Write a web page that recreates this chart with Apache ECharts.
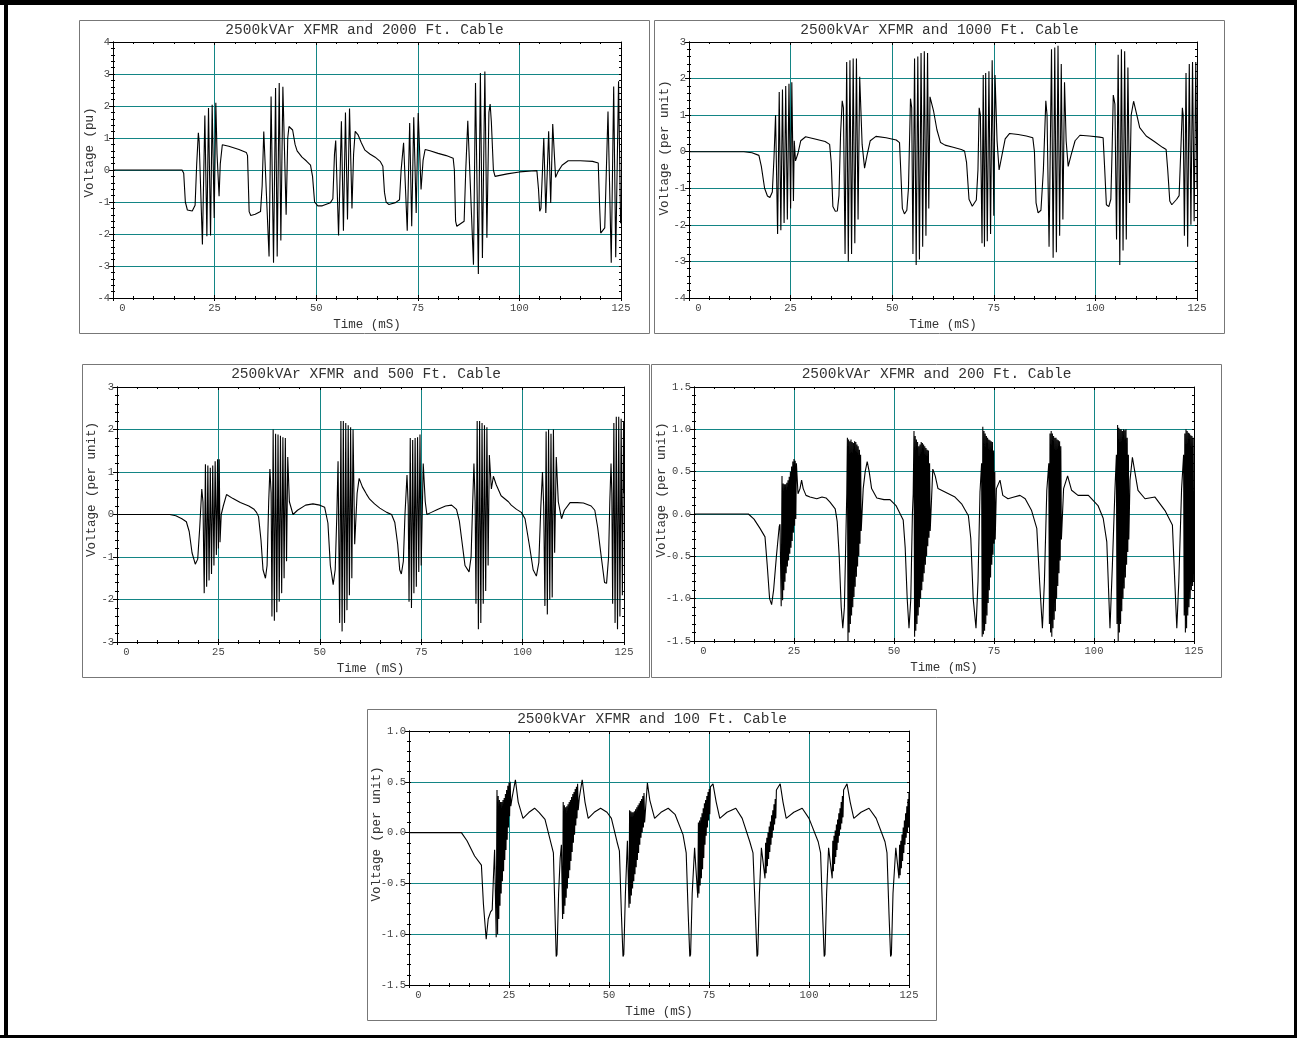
<!DOCTYPE html>
<html>
<head>
<meta charset="utf-8">
<title>2500kVAr XFMR - cable length comparison</title>
<script src="https://cdn.jsdelivr.net/npm/echarts@6/dist/echarts.min.js"></script>
<style>
html, body { margin: 0; padding: 0; background: #fff; }
#chart { width: 1297px; height: 1038px; }
</style>
</head>
<body>
<div id="chart"></div>
<script>
// ---------------------------------------------------------------------------------------------
// DATA  (time in mS, voltage in per unit)

const timeTicks = [0, 25, 50, 75, 100, 125];

const titles = [
    '2500kVAr XFMR and 2000 Ft. Cable',
    '2500kVAr XFMR and 1000 Ft. Cable',
    '2500kVAr XFMR and 500 Ft. Cable',
    '2500kVAr XFMR and 200 Ft. Cable',
    '2500kVAr XFMR and 100 Ft. Cable'
];
const yNames = ['Voltage (pu)', 'Voltage (per unit)', 'Voltage (per unit)', 'Voltage (per unit)', 'Voltage (per unit)'];
const xName = 'Time (mS)';

const yTicks2000 = [-4, -3, -2, -1, 0, 1, 2, 3, 4];
const yTicks1000 = [-4, -3, -2, -1, 0, 1, 2, 3];
const yTicks500 = [-3, -2, -1, 0, 1, 2, 3];
const yTicks200 = [-1.5, -1.0, -0.5, 0.0, 0.5, 1.0, 1.5];
const yTicks100 = [-1.5, -1.0, -0.5, 0.0, 0.5, 1.0];

const cable2000 = [[0,0],[17.0,0],[17.4,-0.1],[17.8,-1.0],[18.3,-1.25],[19.5,-1.28],[20.2,-1.1],[20.6,0.2],[21.0,1.16],[21.2,0.9],[22.0,-2.33],[22.6,1.7],[23.1,-2.07],[23.5,1.94],[24.0,-2.05],[24.4,2.04],[24.9,-1.5],[25.3,2.1],[25.6,0.5],[26.1,-0.82],[26.4,0.2],[26.9,0.79],[28.5,0.74],[31.0,0.64],[32.8,0.55],[33.1,0.45],[33.5,-1.3],[33.9,-1.42],[35.0,-1.38],[36.3,-1.3],[36.7,-0.5],[37.1,1.2],[37.5,1.15],[38.4,-2.7],[38.9,2.3],[39.5,-2.9],[40.0,2.56],[40.4,-2.7],[40.9,2.72],[41.3,-2.2],[41.8,2.6],[42.6,-1.4],[43.0,1.0],[43.3,1.36],[44.2,1.25],[44.8,0.8],[45.3,0.6],[46.5,0.4],[47.6,0.28],[48.6,0.15],[49.1,-0.2],[49.6,-1.0],[50.4,-1.12],[51.5,-1.12],[53.5,-1.02],[54.1,-0.9],[54.5,0.5],[54.8,0.92],[55.5,-2.05],[56.2,1.52],[56.7,-1.9],[57.2,1.8],[57.7,-1.55],[58.2,1.92],[58.8,-1.2],[59.2,0.5],[59.6,1.21],[60.3,1.1],[61.1,0.85],[62.0,0.62],[63.2,0.5],[64.5,0.4],[65.8,0.26],[66.4,0.12],[66.8,-0.7],[67.2,-1.0],[67.9,-1.08],[69.5,-1.02],[70.5,-0.93],[70.9,0],[71.5,0.85],[71.7,0.8],[72.4,-1.9],[73.0,1.47],[73.5,-1.76],[74.0,1.65],[74.6,-1.34],[75.1,1.78],[75.8,-0.61],[76.3,0.3],[76.8,0.64],[78.0,0.6],[80.0,0.52],[82.0,0.45],[83.7,0.37],[84.0,0],[84.3,-1.6],[84.6,-1.76],[86.4,-1.6],[86.8,0],[87.3,1.54],[87.6,1.5],[88.7,-2.96],[89.2,2.72],[89.9,-3.25],[90.4,3.03],[90.9,-2.75],[91.5,3.08],[92.0,-2.12],[92.5,1.8],[92.8,2.06],[93.1,1.5],[93.6,0],[94.0,-0.2],[97.0,-0.12],[100.0,-0.06],[103.0,-0.03],[104.3,-0.02],[104.7,-0.6],[105.0,-1.29],[105.3,-1.2],[106.0,1.0],[106.5,-1.34],[107.2,1.21],[107.7,-1.03],[108.2,1.44],[108.9,-0.23],[109.5,-0.05],[110.5,0.15],[112.0,0.29],[115.0,0.29],[118.0,0.27],[119.4,0.22],[119.7,-1.0],[120.0,-1.97],[121.0,-1.81],[121.8,1.83],[122.6,-2.9],[123.2,2.61],[123.7,-2.73],[124.4,2.77],[124.9,-1.66],[125.0,-1.2]];

const cable1000 = [[0,0],[13.5,0],[15.5,-0.03],[17.2,-0.1],[17.8,-0.4],[18.6,-1.0],[19.3,-1.21],[19.9,-1.25],[20.5,-1.1],[20.9,-0.2],[21.3,1.0],[21.8,-2.25],[22.2,1.63],[22.6,-2.15],[23.0,1.7],[23.4,-1.95],[23.8,1.8],[24.2,-1.85],[24.6,1.86],[25.0,-1.55],[25.3,1.9],[25.7,-1.35],[25.9,0.3],[26.2,-0.25],[26.8,-0.05],[27.5,0.3],[28.7,0.41],[31.0,0.35],[33.5,0.28],[34.6,0.2],[35.0,-0.3],[35.4,-1.5],[36.0,-1.63],[36.5,-1.62],[36.9,-1.2],[37.3,0.5],[37.7,1.39],[38.0,1.2],[38.4,-2.8],[38.8,2.45],[39.2,-3.0],[39.6,2.5],[40.0,-2.8],[40.4,2.55],[40.8,-2.5],[41.2,2.55],[41.6,-1.85],[42.0,2.05],[42.6,0.2],[43.2,-0.45],[43.8,-0.1],[44.6,0.3],[46.0,0.42],[48.5,0.38],[51.0,0.32],[51.8,0.25],[52.1,-0.5],[52.5,-1.55],[53.0,-1.7],[53.6,-1.6],[54.0,-1.0],[54.5,1.45],[54.8,1.2],[55.1,-2.8],[55.5,2.55],[55.9,-3.1],[56.3,2.6],[56.7,-2.95],[57.1,2.7],[57.5,-2.6],[57.9,2.75],[58.3,-2.3],[58.7,2.7],[59.0,-1.55],[59.3,1.5],[60.2,1.1],[61.0,0.6],[61.9,0.25],[63.0,0.18],[65.0,0.12],[67.0,0.06],[67.8,0.02],[68.3,-0.3],[68.9,-1.3],[69.7,-1.49],[70.7,-1.32],[71.1,-0.5],[71.4,1.2],[71.7,1.0],[72.1,-2.5],[72.4,2.1],[72.7,-2.6],[73.0,2.15],[73.4,-2.45],[73.8,2.2],[74.2,-2.25],[74.6,2.5],[75.0,-1.75],[75.3,2.1],[75.8,0.3],[76.3,-0.5],[77.0,-0.1],[77.8,0.35],[78.9,0.5],[81.0,0.47],[83.0,0.43],[84.6,0.38],[85.0,0],[85.4,-1.4],[85.9,-1.67],[86.6,-1.6],[87.2,-0.5],[87.8,1.39],[88.1,1.0],[88.6,-2.6],[89.2,2.8],[89.6,-2.9],[90.0,2.85],[90.4,-2.75],[90.8,2.9],[91.2,-2.3],[91.6,2.4],[92.0,-1.85],[92.4,1.9],[92.8,0.3],[93.3,-0.4],[94.0,-0.1],[95.0,0.3],[96.2,0.45],[98.5,0.43],[101.0,0.4],[101.9,0.38],[102.3,-0.5],[102.7,-1.45],[103.3,-1.5],[103.8,-1.3],[104.1,0],[104.4,1.55],[104.8,1.3],[105.2,-2.4],[105.6,2.65],[106.0,-3.1],[106.4,2.8],[106.8,-2.7],[107.2,2.75],[107.6,-2.4],[108.0,2.3],[108.4,-1.4],[108.8,1.0],[109.4,1.38],[110.2,1.0],[110.9,0.66],[112.5,0.43],[114.5,0.28],[116.5,0.12],[117.4,0.06],[117.8,-0.5],[118.3,-1.35],[118.8,-1.45],[120.0,-1.3],[120.6,-1.2],[121.0,0],[121.4,1.2],[121.6,1.0],[121.9,-2.3],[122.3,2.15],[122.7,-2.6],[123.1,2.4],[123.5,-2.0],[123.9,2.45],[124.3,-1.9],[124.7,2.45],[125.0,-1.0]];

const cable500 = [[0,0],[13.0,0],[14.5,-0.03],[16.0,-0.1],[17.1,-0.17],[17.8,-0.4],[18.5,-0.9],[19.3,-1.17],[19.9,-1.05],[20.4,-0.3],[20.9,0.6],[21.2,0.3],[21.5,-1.85],[21.8,1.18],[22.1,-1.7],[22.4,1.15],[22.7,-1.55],[23.0,1.1],[23.3,-1.4],[23.6,1.15],[23.9,-1.2],[24.2,1.25],[24.5,-0.95],[24.8,1.3],[25.0,-0.8],[25.2,1.3],[25.4,-0.65],[25.7,0.0],[26.2,0.2],[27.0,0.47],[28.5,0.38],[30.4,0.28],[32.5,0.2],[33.7,0.13],[34.4,0.05],[34.9,-0.05],[35.5,-0.6],[36.0,-1.3],[36.6,-1.5],[37.0,-1.2],[37.4,0.3],[37.7,1.07],[38.0,0.5],[38.2,-2.4],[38.5,2.0],[38.8,-2.5],[39.1,1.9],[39.4,-2.3],[39.7,1.88],[40.0,-2.05],[40.3,1.85],[40.6,-1.85],[40.9,1.82],[41.2,-1.5],[41.5,1.8],[41.8,-1.1],[42.1,1.35],[42.5,0.3],[43.4,0.0],[44.5,0.1],[46.5,0.22],[48.3,0.25],[50.0,0.22],[51.2,0.17],[52.0,-0.2],[52.6,-1.2],[53.3,-1.65],[53.8,-1.3],[54.2,0.0],[54.5,1.25],[54.9,-2.55],[55.2,2.2],[55.5,-2.75],[55.8,2.2],[56.1,-2.55],[56.4,2.15],[56.7,-2.25],[57.0,2.1],[57.3,-1.9],[57.6,2.05],[57.9,-1.5],[58.2,2.0],[58.6,-0.7],[59.2,0.5],[59.7,0.85],[60.5,0.65],[61.5,0.48],[62.3,0.36],[63.5,0.25],[64.8,0.15],[66.5,0.05],[67.7,0.0],[68.5,-0.19],[69.2,-0.7],[69.7,-1.3],[70.1,-1.4],[70.6,-1.1],[71.0,0.0],[71.5,0.93],[71.8,0.2],[72.0,-2.05],[72.3,1.8],[72.6,-2.2],[72.9,1.75],[73.2,-1.85],[73.5,1.8],[73.8,-1.7],[74.1,1.82],[74.4,-1.35],[74.7,1.88],[75.0,-1.2],[75.5,1.2],[76.0,0.3],[76.4,0.0],[77.5,0.05],[79.0,0.12],[81.0,0.2],[82.5,0.22],[83.7,0.12],[84.4,-0.15],[85.0,-0.6],[85.8,-1.2],[86.8,-1.35],[87.3,-1.0],[87.7,0.3],[88.0,1.2],[88.3,0.3],[88.5,-2.1],[88.8,2.2],[89.1,-2.7],[89.4,2.2],[89.7,-2.55],[90.0,2.15],[90.3,-2.1],[90.6,2.1],[90.9,-1.8],[91.2,2.05],[91.5,-1.2],[91.8,1.4],[92.3,0.6],[92.8,0.9],[93.5,0.7],[94.7,0.44],[96.5,0.3],[97.2,0.22],[98.5,0.12],[99.7,0.05],[100.6,-0.1],[101.8,-0.8],[102.6,-1.3],[103.4,-1.45],[104.0,-1.13],[104.5,0.2],[104.9,1.0],[105.2,0.2],[105.5,-2.15],[105.8,1.95],[106.1,-2.35],[106.4,2.0],[106.7,-2.0],[107.0,1.9],[107.3,-1.95],[107.6,2.0],[107.9,-0.9],[108.3,1.35],[108.8,0.3],[109.6,-0.1],[110.3,0.1],[111.7,0.28],[113.5,0.28],[115.0,0.27],[116.9,0.2],[117.8,0.1],[118.5,-0.3],[119.4,-1.0],[120.2,-1.6],[120.7,-1.62],[121.2,-1.0],[121.5,0.3],[121.8,1.2],[122.0,0.5],[122.2,-2.1],[122.5,2.15],[122.8,-2.55],[123.1,2.3],[123.4,-2.7],[123.7,2.3],[124.0,-2.4],[124.3,2.25],[124.6,-1.9],[124.9,2.2],[125.0,0.5]];

const cable200 = [[0,0],[13.6,0],[15.0,-0.06],[16.5,-0.17],[17.75,-0.27],[18.3,-0.6],[18.9,-1.0],[19.4,-1.07],[19.9,-0.9],[20.6,-0.5],[21.3,-0.15],[21.5,-0.12],[21.8,-1.09],
    [22.0,0.45],[22.15,-1.02],[22.3,0.36],[22.45,-0.9],[22.6,0.35],[22.75,-0.8],[22.9,0.35],[23.05,-0.7],[23.2,0.37],[23.35,-0.62],[23.5,0.4],[23.65,-0.55],[23.8,0.44],[23.95,-0.47],[24.1,0.5],[24.25,-0.4],[24.4,0.56],[24.55,-0.32],[24.7,0.62],[24.85,-0.22],[25.0,0.65],[25.15,-0.14],[25.3,0.63],[25.45,-0.06],[25.6,0.6],
    [26.0,0.24],[26.5,0.3],[26.9,0.4],[27.3,0.3],[28.0,0.22],[29.0,0.2],[30.7,0.18],[32.0,0.2],[33.0,0.19],[34.0,0.14],[35.3,0.06],[35.8,-0.09],[36.3,-0.5],[36.8,-1.1],[37.2,-1.35],[37.6,-1.1],[38.0,-0.2],[38.2,0.25],
    [38.35,0.9],[38.5,-1.5],[38.65,0.88],[38.8,-1.4],[38.95,0.86],[39.1,-1.3],[39.25,0.88],[39.4,-1.2],[39.55,0.85],[39.7,-1.1],[39.85,0.84],[40.0,-0.98],[40.15,0.86],[40.3,-0.86],[40.45,0.85],[40.6,-0.74],[40.75,0.82],[40.9,-0.62],[41.05,0.8],[41.2,-0.5],[41.35,0.76],[41.5,-0.35],[41.65,0.7],[41.8,-0.2],
    [42.3,0.3],[42.8,0.5],[43.3,0.62],[43.8,0.5],[44.4,0.3],[45.7,0.19],[47.5,0.17],[49.0,0.17],[50.5,0.1],[52.3,-0.07],[52.8,-0.4],[53.3,-1.0],[53.75,-1.35],[54.2,-1.0],[54.6,0.0],[54.8,0.24],
    [55.0,0.98],[55.15,-1.45],[55.3,0.92],[55.45,-1.38],[55.6,0.88],[55.75,-1.3],[55.9,0.85],[56.05,-1.2],[56.2,0.8],[56.35,-1.1],[56.5,0.82],[56.65,-1.0],[56.8,0.85],[56.95,-0.9],[57.1,0.84],[57.25,-0.8],[57.4,0.82],[57.55,-0.7],[57.7,0.8],[57.85,-0.6],[58.0,0.78],[58.15,-0.5],[58.3,0.76],[58.45,-0.38],[58.6,0.75],[58.75,-0.28],[58.9,0.6],[59.05,-0.2],
    [59.7,0.53],[60.3,0.45],[61.0,0.3],[62.75,0.26],[65.25,0.2],[66.9,0.12],[68.6,-0.02],[69.2,-0.29],[69.8,-1.0],[70.5,-1.35],[71.0,-0.8],[71.5,0.26],
    [71.9,0.6],[72.05,-1.45],[72.2,1.03],[72.35,-1.42],[72.5,0.98],[72.65,-1.38],[72.8,0.95],[72.95,-1.3],[73.1,0.92],[73.25,-1.2],[73.4,0.9],[73.55,-1.05],[73.7,0.88],[73.85,-0.9],[74.0,0.87],[74.15,-0.75],[74.3,0.86],[74.45,-0.6],[74.6,0.85],[74.75,-0.48],[74.9,0.75],[75.05,-0.35],[75.2,0.5],[75.3,-0.3],
    [75.6,0.3],[76.5,0.4],[77.2,0.22],[78.5,0.18],[80.0,0.2],[81.5,0.22],[82.8,0.18],[84.4,0.04],[85.7,-0.17],[86.4,-0.8],[87.1,-1.35],[87.6,-0.8],[88.2,0.28],
    [88.7,0.6],[88.85,-1.3],[89.0,0.95],[89.15,-1.4],[89.3,0.98],[89.45,-1.45],[89.6,0.95],[89.75,-1.35],[89.9,0.92],[90.05,-1.25],[90.2,0.9],[90.35,-1.15],[90.5,0.9],[90.65,-1.0],[90.8,0.88],[90.95,-0.85],[91.1,0.87],[91.25,-0.7],[91.4,0.86],[91.55,-0.55],[91.7,0.8],[91.85,-0.3],
    [92.4,0.3],[93.4,0.45],[94.4,0.28],[96.0,0.22],[98.6,0.22],[101.0,0.1],[102.3,-0.05],[103.2,-0.33],[104.0,-1.35],[104.6,-0.6],[105.25,0.3],
    [105.6,0.7],[105.75,-1.3],[105.9,1.05],[106.05,-1.5],[106.2,1.02],[106.35,-1.4],[106.5,1.0],[106.65,-1.3],[106.8,1.0],[106.95,-1.15],[107.1,0.98],[107.25,-1.0],[107.4,1.0],[107.55,-0.88],[107.7,0.99],[107.85,-0.75],[108.0,1.0],[108.15,-0.6],[108.3,0.9],[108.45,-0.45],[108.6,0.7],[108.7,-0.3],
    [109.0,0.4],[109.6,0.67],[110.2,0.5],[111.0,0.28],[112.75,0.18],[115.25,0.2],[117.75,0.04],[119.6,-0.13],[120.2,-0.8],[120.7,-1.35],[121.2,-0.8],[121.9,0.3],
    [122.4,0.7],[122.55,-1.2],[122.7,0.95],[122.85,-1.4],[123.0,1.0],[123.15,-1.35],[123.3,0.98],[123.45,-1.2],[123.6,0.96],[123.75,-1.1],[123.9,0.95],[124.05,-1.0],[124.2,0.93],[124.35,-0.9],[124.5,0.92],[124.65,-0.85],[124.8,0.9],[124.95,-0.8]];

const cable100 = [[0,0],[13.1,0],[14.5,-0.08],[16.4,-0.23],[18.1,-0.32],[18.6,-0.7],[19.3,-1.05],[19.8,-0.85],[20.4,-0.78],[20.8,-0.76],[21.1,-0.45],[21.4,-0.17],[21.8,-1.03],
    [22.0,0.42],[22.15,-1.0],[22.3,0.36],[22.45,-0.85],[22.6,0.32],[22.75,-0.72],[22.9,0.3],[23.05,-0.6],[23.2,0.3],[23.35,-0.48],[23.5,0.32],[23.65,-0.38],[23.8,0.34],[23.95,-0.27],[24.1,0.38],[24.25,-0.17],[24.4,0.42],[24.55,-0.07],[24.7,0.46],[24.85,0.05],[25.0,0.49],[25.15,0.16],[25.3,0.5],[25.45,0.26],
    [25.8,0.35],[26.6,0.52],[27.3,0.3],[28.5,0.14],[30.0,0.2],[31.4,0.24],[32.5,0.2],[34.0,0.13],[35.6,-0.12],[36.1,-0.2],[36.5,-0.8],[36.8,-1.22],[37.0,-1.2],[37.4,-0.6],[37.8,-0.25],[38.1,-0.12],[38.4,-0.85],
    [38.55,0.3],[38.7,-0.8],[38.85,0.27],[39.0,-0.72],[39.15,0.25],[39.3,-0.64],[39.45,0.26],[39.6,-0.55],[39.75,0.28],[39.9,-0.45],[40.05,0.3],[40.2,-0.37],[40.35,0.32],[40.5,-0.28],[40.65,0.35],[40.8,-0.19],[40.95,0.38],[41.1,-0.1],[41.25,0.4],[41.4,-0.02],[41.55,0.43],[41.7,0.07],[41.85,0.45],[42.0,0.14],[42.15,0.48],[42.3,0.22],
    [42.6,0.35],[43.3,0.52],[44.0,0.3],[44.8,0.14],[46.3,0.2],[47.9,0.24],[49.5,0.2],[50.6,0.14],[52.0,-0.09],[52.6,-0.18],[53.1,-0.8],[53.5,-1.22],[53.7,-1.2],[54.1,-0.6],[54.6,-0.08],[55.0,-0.74],
    [55.15,0.22],[55.3,-0.7],[55.45,0.21],[55.6,-0.62],[55.75,0.2],[55.9,-0.55],[56.05,0.2],[56.2,-0.48],[56.35,0.21],[56.5,-0.41],[56.65,0.23],[56.8,-0.34],[56.95,0.25],[57.1,-0.27],[57.25,0.27],[57.4,-0.2],[57.55,0.29],[57.7,-0.12],[57.85,0.31],[58.0,-0.05],[58.15,0.33],[58.3,0.0],[58.45,0.36],[58.6,0.05],[58.75,0.39],[58.9,0.1],
    [59.6,0.49],[60.2,0.32],[61.4,0.14],[63.0,0.2],[64.8,0.24],[66.5,0.18],[68.5,-0.02],[69.3,-0.2],[69.8,-0.8],[70.2,-1.22],[70.4,-1.2],[70.8,-0.6],[71.4,-0.15],
    [72.2,-0.64],[72.35,0.1],[72.5,-0.6],[72.65,0.12],[72.8,-0.52],[72.95,0.15],[73.1,-0.45],[73.25,0.19],[73.4,-0.36],[73.55,0.24],[73.7,-0.25],[73.85,0.29],[74.0,-0.12],[74.15,0.32],[74.3,-0.03],[74.45,0.36],[74.6,0.05],[74.75,0.4],[74.9,0.12],[75.05,0.43],[75.2,0.18],[75.35,0.45],
    [76.0,0.48],[76.8,0.3],[77.7,0.14],[79.5,0.2],[81.7,0.24],[83.3,0.14],[85.2,-0.09],[86.0,-0.2],[86.6,-0.8],[87.0,-1.22],[87.2,-1.2],[87.6,-0.6],[88.1,-0.15],
    [89.0,-0.45],[89.15,-0.1],[89.3,-0.4],[89.45,-0.05],[89.6,-0.33],[89.75,0.0],[89.9,-0.26],[90.05,0.06],[90.2,-0.19],[90.35,0.11],[90.5,-0.12],[90.65,0.17],[90.8,-0.05],[90.95,0.22],[91.1,0.02],[91.25,0.28],[91.4,0.08],[91.55,0.33],[91.7,0.14],[91.85,0.42],
    [92.8,0.48],[93.5,0.3],[94.3,0.14],[96.2,0.2],[98.3,0.24],[100.0,0.14],[102.3,-0.09],[102.9,-0.2],[103.4,-0.8],[103.8,-1.22],[104.0,-1.2],[104.4,-0.6],[104.9,-0.15],
    [105.8,-0.45],[105.95,-0.08],[106.1,-0.38],[106.25,-0.03],[106.4,-0.31],[106.55,0.02],[106.7,-0.24],[106.85,0.08],[107.0,-0.17],[107.15,0.13],[107.3,-0.1],[107.45,0.19],[107.6,-0.03],[107.75,0.24],[107.9,0.03],[108.05,0.3],[108.2,0.09],[108.35,0.36],[108.5,0.15],[108.65,0.42],
    [109.5,0.48],[110.3,0.3],[111.2,0.14],[113.0,0.2],[115.0,0.24],[116.8,0.14],[119.0,-0.09],[119.5,-0.2],[120.0,-0.8],[120.4,-1.22],[120.6,-1.2],[121.0,-0.6],[121.7,-0.15],
    [122.5,-0.45],[122.65,-0.12],[122.8,-0.42],[122.95,-0.08],[123.1,-0.35],[123.25,-0.02],[123.4,-0.28],[123.55,0.05],[123.7,-0.2],[123.85,0.12],[124.0,-0.12],[124.15,0.19],[124.3,-0.05],[124.45,0.26],[124.6,0.0],[124.75,0.33],[124.9,0.05],[125.0,0.4]];

// ---------------------------------------------------------------------------------------------
// LAYOUT  (frame box and plot box of every panel, in px)

const FONT = '"Liberation Mono", "Courier New", monospace';
const TEAL = '#138585';

const panels = [
    {data: cable2000, ticks: yTicks2000, dec: 0, frame: [79.5, 20.5, 570, 313], plot: [113, 42, 508, 256], yNameAt: [89.5, 152.5]},
    {data: cable1000, ticks: yTicks1000, dec: 0, frame: [654.5, 20.5, 570, 313], plot: [689, 42, 508, 256], yNameAt: [664.5, 148]},
    {data: cable500, ticks: yTicks500, dec: 0, frame: [82.5, 364.5, 567, 313], plot: [117, 387, 507, 255], yNameAt: [91.5, 489.5]},
    {data: cable200, ticks: yTicks200, dec: 1, frame: [651.5, 364.5, 570, 313], plot: [694, 387, 500, 254], yNameAt: [661.5, 490]},
    {data: cable100, ticks: yTicks100, dec: 1, frame: [367.5, 709.5, 569, 311], plot: [409, 731, 500, 254], yNameAt: [376.5, 834]}
];

function timeAxis(gi, pos, labelled, inside) {
    let ax = {
        gridIndex: gi, type: 'value', position: pos,
        min: timeTicks[0], max: timeTicks[timeTicks.length - 1], interval: timeTicks[1] - timeTicks[0],
        axisLine: {show: true, onZero: false, lineStyle: {color: '#000', width: 1}},
        axisTick: {show: true, inside: inside, length: 3, lineStyle: {color: '#000'}},
        minorTick: {show: true, splitNumber: 5, length: 2, lineStyle: {color: '#000'}},
        axisLabel: {show: false},
        splitLine: {show: false}
    };
    if (labelled) {
        ax.axisLabel = {
            show: true, margin: 5, fontFamily: FONT, fontSize: 10.5, color: '#444',
            alignMinLabel: 'left', padding: [0, 0, 0, 0],
            // the "0" sits a few px right of the corner, like on the scope print
            formatter: function (v) { return v === 0 ? ' 0' : String(v); }
        };
        ax.splitLine = {show: true, showMinLine: false, showMaxLine: false, lineStyle: {color: TEAL, width: 1}};
        ax.name = xName;
        ax.nameLocation = 'middle';
        ax.nameGap = 27;
        ax.nameTextStyle = {fontFamily: FONT, fontSize: 12.5, color: '#333', verticalAlign: 'middle'};
    }
    return ax;
}

function voltAxis(gi, pos, p, labelled, inside) {
    let ax = {
        gridIndex: gi, type: 'value', position: pos,
        min: p.ticks[0], max: p.ticks[p.ticks.length - 1], interval: p.ticks[1] - p.ticks[0],
        axisLine: {show: true, onZero: false, lineStyle: {color: '#000', width: 1}},
        axisTick: {show: true, inside: inside, length: labelled ? 4 : 2, lineStyle: {color: '#000'}},
        minorTick: {show: true, splitNumber: 5, length: 2, lineStyle: {color: '#000'}},
        axisLabel: {show: false},
        splitLine: {show: false}
    };
    if (labelled) {
        ax.axisLabel = {
            show: true, margin: 3, fontFamily: FONT, fontSize: 10.5, color: '#444',
            formatter: function (v) { return v.toFixed(p.dec); }
        };
        ax.splitLine = {show: true, showMinLine: false, showMaxLine: false, lineStyle: {color: TEAL, width: 1}};
    }
    return ax;
}

let option = {
    animation: false,
    backgroundColor: '#fff',
    grid: [], xAxis: [], yAxis: [], series: [],
    graphic: {elements: []}
};

let els = option.graphic.elements;

// outer page border
els.push({type: 'rect', silent: true, shape: {x: 0, y: 0, width: 1297, height: 5}, style: {fill: '#000'}});
els.push({type: 'rect', silent: true, shape: {x: 4, y: 0, width: 4, height: 1038}, style: {fill: '#000'}});
els.push({type: 'rect', silent: true, shape: {x: 1294, y: 0, width: 3, height: 1038}, style: {fill: '#000'}});
els.push({type: 'rect', silent: true, shape: {x: 0, y: 1035, width: 1297, height: 3}, style: {fill: '#000'}});

panels.forEach(function (p, i) {
    let box = {left: p.plot[0], top: p.plot[1], width: p.plot[2], height: p.plot[3], show: false};
    let gA = option.grid.length;
    option.grid.push(Object.assign({}, box));
    // second grid on the same box only carries the inward half of the crossed ticks
    let gB = option.grid.length;
    option.grid.push(Object.assign({}, box));

    let xi = option.xAxis.length;
    option.xAxis.push(timeAxis(gA, 'bottom', true, false));
    option.xAxis.push(timeAxis(gA, 'top', false, true));
    option.xAxis.push(timeAxis(gB, 'bottom', false, true));

    let yi = option.yAxis.length;
    option.yAxis.push(voltAxis(gA, 'left', p, true, false));
    option.yAxis.push(voltAxis(gA, 'right', p, false, true));
    option.yAxis.push(voltAxis(gB, 'left', p, false, true));

    option.series.push({
        type: 'line', xAxisIndex: xi, yAxisIndex: yi, data: p.data,
        showSymbol: false, symbol: 'none', clip: true, z: 5,
        lineStyle: {color: '#000', width: 1.1}
    });

    // panel frame
    els.push({type: 'rect', silent: true,
        shape: {x: p.frame[0], y: p.frame[1], width: p.frame[2], height: p.frame[3]},
        style: {fill: 'none', stroke: '#777', lineWidth: 1}});
    // title
    els.push({type: 'text', silent: true, x: p.frame[0] + p.frame[2] / 2, y: p.frame[1] + 9.5,
        style: {text: titles[i], font: '14.5px ' + FONT, fill: '#333',
            align: 'center', textAlign: 'center', verticalAlign: 'middle', textVerticalAlign: 'middle'}});
    // y axis title (rotated)
    els.push({type: 'text', silent: true, x: p.yNameAt[0], y: p.yNameAt[1], rotation: Math.PI / 2,
        style: {text: yNames[i], font: '12.5px ' + FONT, fill: '#333',
            align: 'center', textAlign: 'center', verticalAlign: 'middle', textVerticalAlign: 'middle'}});
});

let chart = echarts.init(document.getElementById('chart'));
chart.setOption(option);
</script>
</body>
</html>
